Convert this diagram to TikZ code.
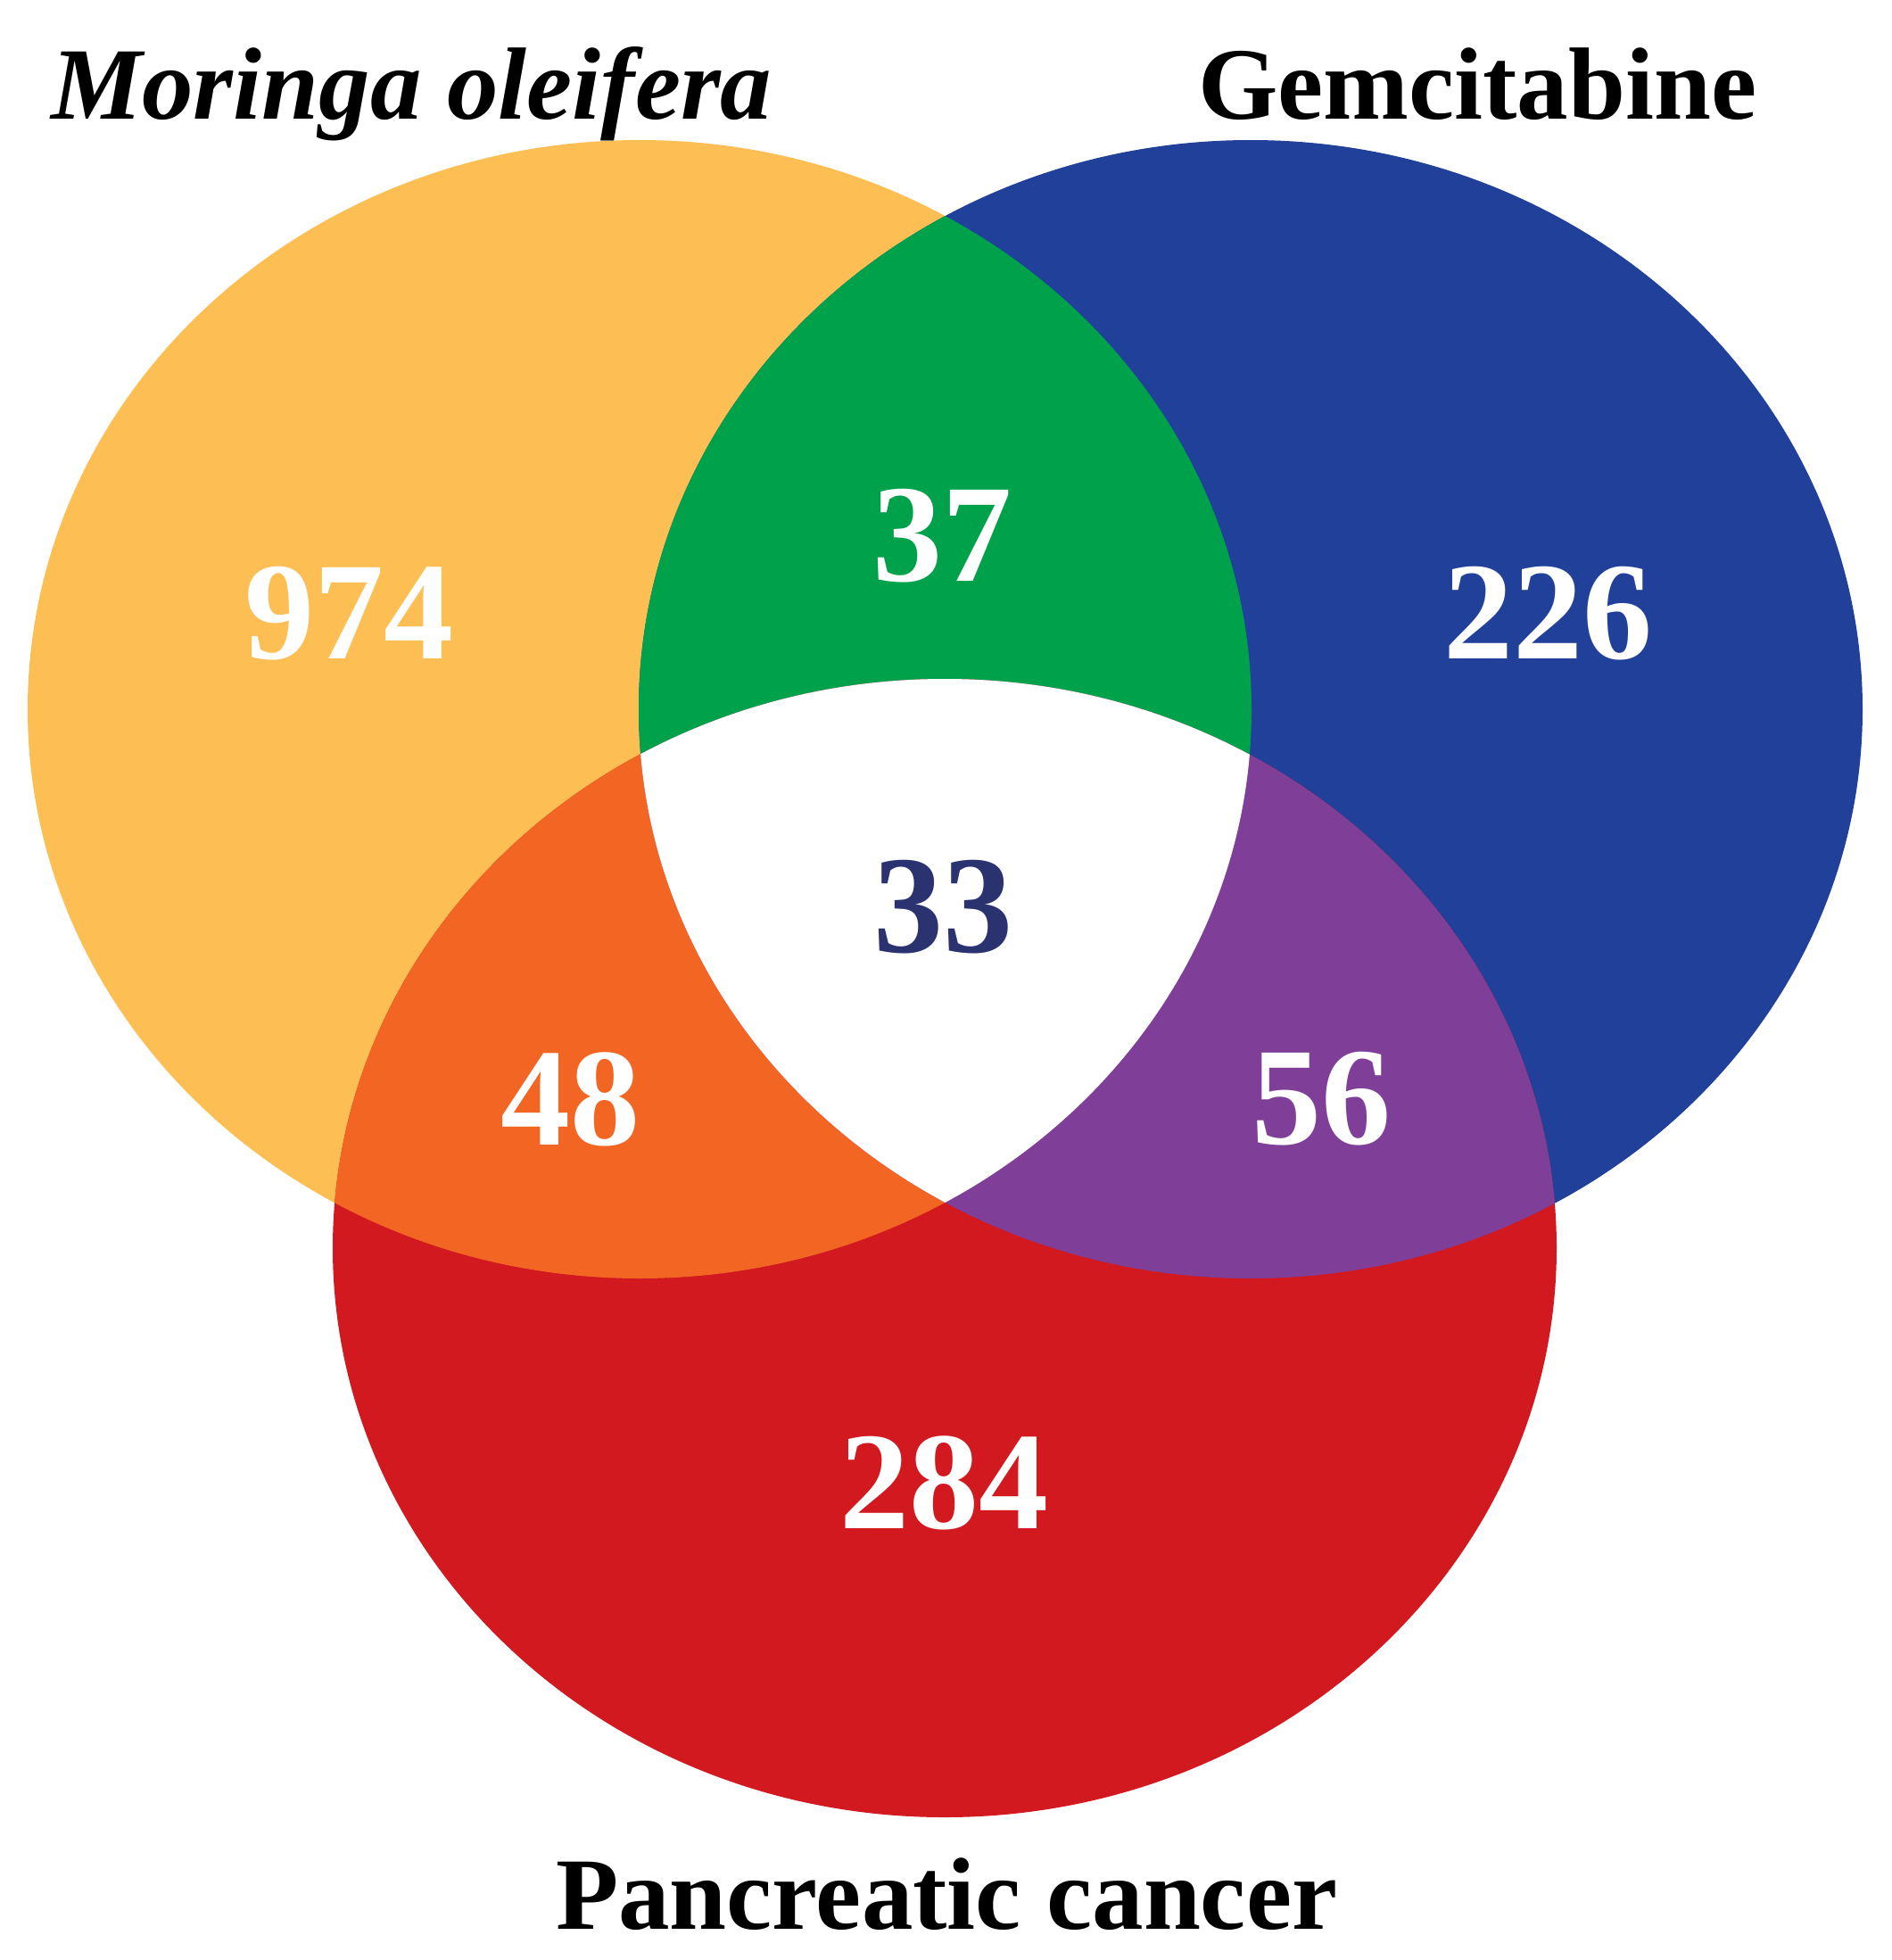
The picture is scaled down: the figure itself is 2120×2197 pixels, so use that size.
\documentclass[tikz,border=0pt]{standalone}
\usepackage{fontspec}
\setmainfont{Liberation Serif}
\definecolor{cyel}{HTML}{FDBF54}
\definecolor{cblue}{HTML}{21409A}
\definecolor{cred}{HTML}{D1191F}
\definecolor{cgreen}{HTML}{00A14B}
\definecolor{corange}{HTML}{F26522}
\definecolor{cpurple}{HTML}{7F3F98}
\definecolor{cnavy}{HTML}{2B3270}
\tikzset{
  numlbl/.style={inner sep=0pt, text=white, font=\fontsize{156}{156}\selectfont\bfseries},
  setlbl/.style={inner sep=0pt, anchor=base west, text=black, font=\fontsize{115}{115}\selectfont\bfseries}
}
\begin{document}
\begin{tikzpicture}[x=1pt,y=-1pt]
\useasboundingbox (0,0) rectangle (2120,2197);
\fill[white] (0,0) rectangle (2120,2197);
\def\setY{(717,795) ellipse [x radius=686, y radius=638]}
\def\setB{(1402,795) ellipse [x radius=686, y radius=638]}
\def\setR{(1059,1399) ellipse [x radius=686, y radius=638]}
\fill[cyel] \setY;
\fill[cblue] \setB;
\fill[cred] \setR;
\begin{scope}\clip \setY; \fill[cgreen] \setB; \end{scope}
\begin{scope}\clip \setY; \fill[corange] \setR; \end{scope}
\begin{scope}\clip \setB; \fill[cpurple] \setR; \end{scope}
\begin{scope}\clip \setY; \clip \setB; \fill[white] \setR; \end{scope}
\node[numlbl] (n974) at (391,688) {974};
\node[numlbl] (n37) at (1056,601) {37};
\node[numlbl] (n226) at (1735,688) {226};
\node[numlbl, text=cnavy] (n33) at (1057,1017) {33};
\node[numlbl] (n48) at (639,1232) {48};
\node[numlbl] (n56) at (1481,1232) {56};
\node[numlbl] (n284) at (1058,1662) {284};
\node[setlbl, font=\fontsize{115}{115}\selectfont\bfseries\itshape] (lmo) at (57,133) {Moringa oleifera};
\node[setlbl] (lgem) at (1343,133) {Gemcitabine};
\node[setlbl] (lpc) at (623,2162) {Pancreatic cancer};
\end{tikzpicture}
\end{document}
